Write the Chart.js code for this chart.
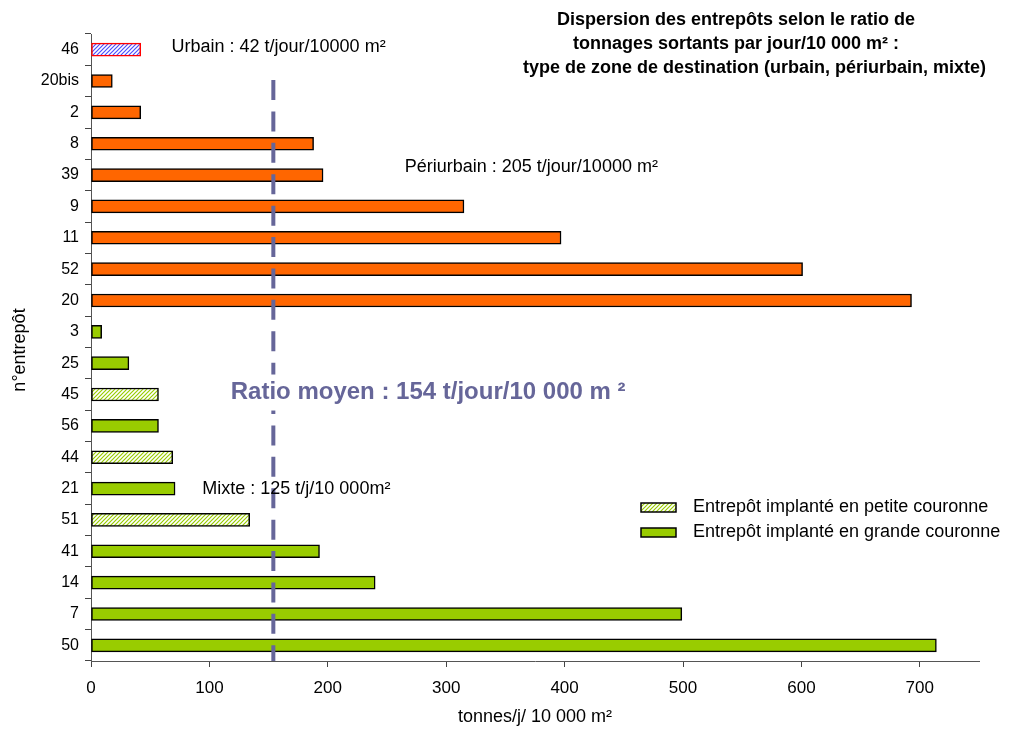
<!DOCTYPE html>
<html>
<head>
<meta charset="utf-8">
<script src="https://cdn.jsdelivr.net/npm/chart.js@4.4.1/dist/chart.umd.min.js"></script>
<style>
  html, body { margin: 0; padding: 0; background: #fff; }
  #wrap { position: relative; width: 1013px; height: 733px; }
</style>
</head>
<body>
<div id="wrap"><canvas id="chart" width="1013" height="733"></canvas></div>
<script>
// --- Data ---
const entrepots = ['46', '20bis', '2', '8', '39', '9', '11', '52', '20', '3', '25', '45', '56', '44', '21', '51', '41', '14', '7', '50'];
const ratios = [42, 18, 42, 188, 196, 315, 397, 601, 693, 9, 32, 57, 57, 69, 71, 134, 193, 240, 499, 714];
// zone de destination of each entrepot
const zones = ['urbain', 'periurbain', 'periurbain', 'periurbain', 'periurbain', 'periurbain', 'periurbain', 'periurbain', 'periurbain',
               'mixte', 'mixte', 'mixte', 'mixte', 'mixte', 'mixte', 'mixte', 'mixte', 'mixte', 'mixte', 'mixte'];
// couronne: petite / grande
const couronnes = ['petite', 'grande', 'grande', 'grande', 'grande', 'grande', 'grande', 'grande', 'grande',
                   'grande', 'grande', 'petite', 'grande', 'petite', 'grande', 'petite', 'grande', 'grande', 'grande', 'grande'];
const xTicks = [0, 100, 200, 300, 400, 500, 600, 700];
const ratioMoyen = 154;

const FONT = '"Liberation Sans", Arial, sans-serif';
const ORANGE = '#ff6600';
const GREEN = '#99cc00';

// hatched fill for "petite couronne" bars
function hatch(color, bg) {
    const c = document.createElement('canvas');
    c.width = 4; c.height = 4;
    const x = c.getContext('2d');
    x.fillStyle = bg;
    x.fillRect(0, 0, 4, 4);
    x.strokeStyle = color;
    x.lineWidth = 1.2;
    x.beginPath();
    x.moveTo(0, 4); x.lineTo(4, 0);
    x.moveTo(-1, 1); x.lineTo(1, -1);
    x.moveTo(3, 5); x.lineTo(5, 3);
    x.stroke();
    return x.createPattern(c, 'repeat');
}
const blueHatch = hatch('#4d4dff', '#ffffff');
const greenHatch = hatch('#99cc00', '#ffffff');

const fills = zones.map((z, i) => {
    if (z === 'urbain') return blueHatch;
    if (couronnes[i] === 'petite') return greenHatch;
    return z === 'periurbain' ? ORANGE : GREEN;
});
const borders = zones.map(z => z === 'urbain' ? '#ff0000' : '#000000');

// --- Annotations, legend, titles, average line ---
const extras = {
    id: 'extras',
    afterDatasetsDraw(chart) {
        const { ctx, chartArea, scales: { x, y } } = chart;
        ctx.save();

        // average ratio dashed line
        const lx = x.getPixelForValue(ratioMoyen);
        ctx.strokeStyle = '#666699';
        ctx.lineWidth = 4;
        ctx.setLineDash([20, 11.4]);
        ctx.beginPath();
        ctx.moveTo(lx, y.getPixelForValue(1) - 1);
        ctx.lineTo(lx, chartArea.bottom);
        ctx.stroke();
        ctx.setLineDash([]);

        // zone labels
        ctx.fillStyle = '#000';
        ctx.font = '18px ' + FONT;
        ctx.textBaseline = 'middle';
        ctx.textAlign = 'left';
        ctx.fillText('Urbain : 42 t/jour/10000 m²', x.getPixelForValue(68), y.getPixelForValue(0) - 3);
        ctx.fillText('Périurbain : 205 t/jour/10000 m²', x.getPixelForValue(265), y.getPixelForValue(3.75));
        ctx.fillText('Mixte : 125 t/j/10 000m²', x.getPixelForValue(94), y.getPixelForValue(14));

        // ratio moyen label (white box hides the line)
        ctx.font = 'bold 24px ' + FONT;
        const rt = 'Ratio moyen : 154 t/jour/10 000 m ²';
        const rx = x.getPixelForValue(118), ry = y.getPixelForValue(11) - 2;
        const rw = ctx.measureText(rt).width;
        ctx.fillStyle = '#fff';
        ctx.fillRect(rx - 4, ry - 18, rw + 8, 36);
        ctx.fillStyle = '#666699';
        ctx.fillText(rt, rx, ry);

        // title
        ctx.fillStyle = '#000';
        ctx.font = 'bold 18px ' + FONT;
        ctx.fillText('Dispersion des entrepôts selon le ratio de', 557, 20);
        ctx.fillText('tonnages sortants par jour/10 000 m² :', 573, 44);
        ctx.fillText('type de zone de destination (urbain, périurbain, mixte)', 523, 68);

        // axis titles
        ctx.font = '18px ' + FONT;
        ctx.textAlign = 'center';
        ctx.fillText('tonnes/j/ 10 000 m²', (chartArea.left + chartArea.right) / 2, 717);
        ctx.translate(20, 350);
        ctx.rotate(-Math.PI / 2);
        ctx.fillText('n°entrepôt', 0, 0);
        ctx.setTransform(1, 0, 0, 1, 0, 0);

        // legend
        const legend = [
            { label: 'Entrepôt implanté en petite couronne', fill: greenHatch },
            { label: 'Entrepôt implanté en grande couronne', fill: GREEN }
        ];
        ctx.textAlign = 'left';
        ctx.font = '18px ' + FONT;
        legend.forEach((item, i) => {
            const ly = 507 + i * 25;
            ctx.fillStyle = item.fill;
            ctx.fillRect(641, ly - 4, 35, 9);
            ctx.strokeStyle = '#000';
            ctx.lineWidth = 1.5;
            ctx.strokeRect(641, ly - 4, 35, 9);
            ctx.fillStyle = '#000';
            ctx.fillText(item.label, 693, ly);
        });

        ctx.restore();
    }
};

new Chart(document.getElementById('chart'), {
    type: 'bar',
    data: {
        labels: entrepots,
        datasets: [{
            data: ratios,
            backgroundColor: fills,
            borderColor: borders,
            borderWidth: 1.5,
            borderSkipped: false,
            barThickness: 13
        }]
    },
    options: {
        responsive: false,
        animation: false,
        indexAxis: 'y',
        layout: { padding: { top: 34, right: 34, left: 0, bottom: 0 } },
        plugins: { legend: { display: false }, tooltip: { enabled: false } },
        scales: {
            x: {
                min: 0,
                max: 750,
                afterBuildTicks: s => { s.ticks = xTicks.map(v => ({ value: v })); },
                ticks: { color: '#000', font: { family: FONT, size: 17 }, padding: 11, maxRotation: 0 },
                grid: { drawOnChartArea: false, drawTicks: true, tickLength: 6, color: '#444' },
                border: { color: '#555', width: 1 },
                afterFit: s => { s.height = 72; }
            },
            y: {
                ticks: { color: '#000', font: { family: FONT, size: 16 }, padding: 6 },
                grid: { drawOnChartArea: false, drawTicks: true, tickLength: 6, color: '#444', offset: true },
                border: { color: '#555', width: 1 },
                afterFit: s => { s.width = 91; }
            }
        }
    },
    plugins: [extras]
});
</script>
</body>
</html>
